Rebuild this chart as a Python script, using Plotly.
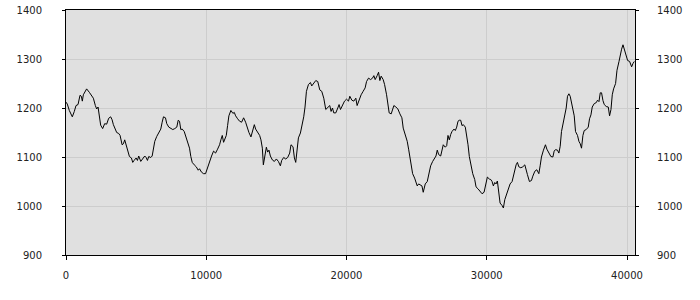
import plotly.graph_objects as go

# x positions (data units) and values
x_vals = [
    0, 93, 236, 450, 593, 714, 857, 1000, 1093, 1164, 1236, 1379, 1471, 1664, 1807, 1950, 2093, 2186, 2286, 2379,
    2471, 2614, 2757, 2900, 3043, 3186, 3286, 3379, 3521, 3614, 3757, 3857, 4000, 4093, 4186, 4286, 4429, 4521, 4664, 4757,
    4857, 5000,
    5093, 5186, 5329, 5471, 5614, 5714, 5807, 5900, 6043, 6143, 6236, 6329, 6471, 6614, 6757, 6857, 6950, 7093, 7186, 7329,
    7471, 7614, 7757, 7900, 8000, 8093, 8186, 8286, 8429, 8521, 8664, 8807, 8900, 9000, 9143, 9286, 9429, 9521, 9664, 9807,
    9950,
    10093, 10236, 10379, 10521, 10664, 10807, 10950, 11043, 11143, 11236, 11329, 11429, 11521, 11614, 11757, 11900, 12000, 12093, 12236, 12379,
    12521, 12664, 12807, 12900, 13043, 13186, 13286, 13429, 13521, 13664, 13807, 13900, 14000, 14071, 14186, 14286, 14379, 14471, 14571, 14714,
    14857, 15000, 15143, 15286,
    15379, 15521, 15664, 15807, 15950, 16043, 16186, 16286, 16379, 16471, 16571, 16714, 16857, 16950, 17043, 17143, 17286, 17429, 17521, 17664,
    17807, 17950, 18093, 18236, 18379, 18521, 18664, 18807, 18900, 19000, 19093, 19236, 19379, 19471, 19571, 19714, 19857, 20000, 20143, 20236,
    20379,
    20521, 20664, 20757, 20900, 21043, 21186, 21329, 21429, 21571, 21714, 21857, 21950, 22043, 22186, 22286, 22379, 22471, 22614, 22714, 22857,
    22950, 23043, 23186, 23286, 23379, 23521, 23664, 23807, 23950, 24043, 24186, 24329, 24429, 24521, 24614, 24714, 24857, 24950, 25043, 25143,
    25286, 25379, 25471, 25571,
    25614, 25757, 25857, 26000, 26143, 26236, 26379, 26471, 26571, 26714, 26807, 26900, 27043, 27143, 27236, 27329, 27429, 27521, 27664, 27757,
    27857, 27950, 28043, 28143, 28236, 28329, 28471, 28571, 28664, 28757, 28857, 29000, 29143, 29236, 29379, 29521, 29664, 29807, 29900, 30043,
    30186, 30286, 30379, 30471, 30571, 30664, 30757,
    30857, 30950, 31093, 31186, 31286, 31379, 31471, 31571, 31664, 31807, 31900, 32000, 32093, 32186, 32286, 32429, 32571, 32714, 32807, 32900,
    33043, 33186, 33286, 33429, 33571, 33714, 33807, 33900, 34043, 34186, 34286, 34429, 34571, 34714, 34807, 34900, 35043, 35143, 35236, 35329,
    35429, 35571, 35664, 35757, 35857,
    35950, 36043, 36143, 36236, 36329, 36471, 36571, 36664, 36757, 36857, 36950, 37093, 37236, 37329, 37429, 37521, 37664, 37807, 37900, 38000,
    38093, 38186, 38286, 38379, 38521, 38664, 38757, 38857, 38950, 39043, 39186, 39286, 39429, 39521, 39614, 39714, 39807, 39900, 40043, 40186,
    40329, 40429, 40521,
]

y_vals = [
    1212, 1208, 1195, 1182, 1193, 1205, 1207, 1226, 1224, 1214, 1227, 1235, 1239, 1232, 1227, 1220, 1205, 1198, 1202, 1180,
    1165, 1158, 1168, 1167, 1179, 1182, 1176, 1166, 1157, 1150, 1148, 1144, 1125, 1127, 1135, 1125, 1112, 1101, 1098, 1089,
    1093, 1098,
    1093, 1102, 1091, 1096, 1102, 1099, 1093, 1101, 1099, 1102, 1118, 1132, 1142, 1150, 1157, 1171, 1182, 1180, 1168, 1161,
    1158, 1156, 1158, 1161, 1175, 1173, 1156, 1157, 1152, 1144, 1132, 1118, 1101, 1089, 1084, 1080, 1073, 1076, 1069, 1066,
    1066,
    1078, 1093, 1102, 1112, 1108, 1116, 1125, 1135, 1144, 1130, 1139, 1144, 1164, 1184, 1195, 1189, 1191, 1184, 1178, 1173,
    1171, 1180, 1171, 1161, 1150, 1141, 1152, 1166, 1157, 1149, 1144, 1135, 1118, 1084, 1101, 1120, 1110, 1114, 1102, 1094,
    1091, 1096, 1091, 1082,
    1093, 1099, 1096, 1099, 1108, 1125, 1121, 1098, 1089, 1116, 1139, 1149, 1166, 1182, 1202, 1234, 1248, 1252, 1245, 1251,
    1256, 1254, 1237, 1234, 1220, 1197, 1202, 1205, 1193, 1200, 1190, 1190, 1200, 1207, 1197, 1207, 1214, 1218, 1214, 1224,
    1216,
    1214, 1220, 1205, 1218, 1227, 1234, 1241, 1254, 1261, 1258, 1261, 1266, 1258, 1266, 1273, 1256, 1265, 1258, 1248, 1227,
    1207, 1190, 1188, 1197, 1205, 1202, 1198, 1188, 1180, 1159, 1146, 1132, 1116, 1098, 1081, 1066, 1057, 1050, 1041, 1045,
    1043, 1041, 1028, 1039,
    1045, 1050, 1066, 1082, 1091, 1096, 1102, 1114, 1105, 1102, 1118, 1125, 1120, 1123, 1144, 1135, 1146, 1152, 1157, 1154,
    1161, 1173, 1175, 1175, 1164, 1166, 1161, 1146, 1125, 1101, 1084, 1066, 1054, 1039, 1035, 1030, 1025, 1028, 1039, 1059,
    1055, 1054, 1050, 1041, 1048, 1045, 1051,
    1023, 1006, 1001, 996, 1013, 1020, 1027, 1037, 1045, 1050, 1061, 1074, 1084, 1089, 1080, 1078, 1080, 1084, 1071, 1064,
    1050, 1052, 1061, 1071, 1074, 1066, 1082, 1100, 1114, 1125, 1116, 1107, 1101, 1100, 1112, 1115, 1114, 1108, 1122, 1152,
    1166, 1186, 1200, 1224, 1229,
    1224, 1211, 1197, 1184, 1152, 1144, 1132, 1127, 1118, 1144, 1154, 1156, 1161, 1178, 1186, 1202, 1209, 1211, 1216, 1213,
    1231, 1231, 1215, 1207, 1203, 1202, 1184, 1197, 1227, 1239, 1250, 1277, 1295, 1309, 1320, 1329, 1320, 1307, 1297, 1295,
    1284, 1291, 1295,
]

x_tick_values = [0, 10000, 20000, 30000, 40000]
x_tick_labels = ["0", "10000", "20000", "30000", "40000"]
y_tick_values = [900, 1000, 1100, 1200, 1300, 1400]

n = min(len(x_vals), len(y_vals))
x_vals = x_vals[:n]
y_vals = y_vals[:n]

FONT = dict(family="DejaVu Sans", size=10, color="#222222")
GRID = "#cdcdcd"

fig = go.Figure()
fig.add_trace(go.Scatter(x=x_vals, y=y_vals, mode="lines",
                         line=dict(color="black", width=1), hoverinfo="skip",
                         showlegend=False))
fig.add_trace(go.Scatter(x=x_vals, y=y_vals, mode="lines", yaxis="y2",
                         line=dict(color="rgba(0,0,0,0)", width=0), hoverinfo="skip",
                         showlegend=False))

fig.update_layout(
    width=700, height=300,
    margin=dict(l=66, r=65, t=10, b=45, pad=0, autoexpand=False),
    paper_bgcolor="white", plot_bgcolor="#e0e0e0",
    xaxis=dict(range=[0, 40570], tickvals=x_tick_values, ticktext=x_tick_labels,
               showgrid=True, gridcolor=GRID, automargin=False,
               gridwidth=1, zeroline=False, showline=True, linecolor="black", linewidth=1,
               mirror=True, ticks="outside", ticklen=4, tickcolor="black",
               tickfont=FONT, ticklabelstandoff=7),
    yaxis=dict(range=[900, 1400], tickvals=y_tick_values, showgrid=True, gridcolor=GRID,
               zeroline=False, showline=True, linecolor="black", linewidth=1, automargin=False,
               ticks="outside", ticklen=3, tickcolor="black", tickfont=FONT,
               ticklabelstandoff=18),
    yaxis2=dict(range=[900, 1400], tickvals=y_tick_values, overlaying="y", side="right",
                showgrid=False, zeroline=False, showline=True, linecolor="black", linewidth=1,
                automargin=False,
                ticks="outside", ticklen=3, tickcolor="black", tickfont=FONT,
                ticklabelstandoff=16),
)

fig.write_html("out.html")
